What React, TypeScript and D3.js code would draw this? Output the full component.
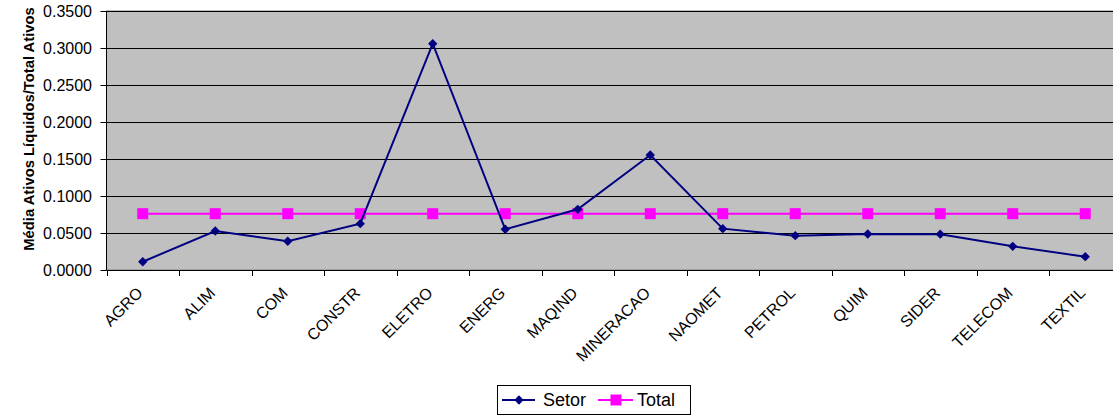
import React from "react";
import * as d3 from "d3";

const categories = ["AGRO", "ALIM", "COM", "CONSTR", "ELETRO", "ENERG", "MAQIND", "MINERACAO", "NAOMET", "PETROL", "QUIM", "SIDER", "TELECOM", "TEXTIL"];
const setorValues = [0.0112, 0.0527, 0.0388, 0.0626, 0.3059, 0.0550, 0.0820, 0.1554, 0.0559, 0.0464, 0.0486, 0.0484, 0.0320, 0.0180];
const totalValues = [0.0761, 0.0761, 0.0761, 0.0761, 0.0761, 0.0761, 0.0761, 0.0761, 0.0761, 0.0761, 0.0761, 0.0761, 0.0761, 0.0761];
const yTicks = [0, 0.05, 0.1, 0.15, 0.2, 0.25, 0.3, 0.35];
const yTitle = "Média Ativos Líquidos/Total Ativos";
const seriesNames = ["Setor", "Total"];

const W = 1113;
const H = 416;
const plot = { left: 106.5, right: 1121.5, top: 11, bottom: 270 };
const FONT = "'Liberation Sans', Arial, sans-serif";
const NAVY = "#000080";
const PINK = "#FF00FF";

export default function App() {
  const x = d3.scaleBand<string>().domain(categories).range([plot.left, plot.right]);
  const y = d3.scaleLinear().domain([0, 0.35]).range([plot.bottom, plot.top]);
  const fmt = d3.format(".4f");
  const cx = (c: string) => (x(c) as number) + x.bandwidth() / 2;

  const line = d3.line<number>().x((_, i) => cx(categories[i])).y((d) => y(d));
  const diamond = d3.symbol(d3.symbolSquare, 44)() as string;
  const square = d3.symbol(d3.symbolSquare, 121)() as string;
  const boundaries = categories.map((c) => x(c) as number).concat([plot.right]);

  return (
    <>
      <style>{`body{margin:0;}`}</style>
      <svg width={W} height={H} style={{ display: "block" }} fontFamily={FONT}>
        <rect x={0} y={0} width={W} height={H} fill="#ffffff" />
        <rect x={plot.left} y={plot.top} width={plot.right - plot.left} height={plot.bottom - plot.top} fill="#C0C0C0" stroke="#808080" strokeWidth={1} />
        {yTicks.map((t) => (
          <g key={t}>
            {t > 0 && <line x1={plot.left} x2={plot.right} y1={Math.round(y(t)) + 0.5} y2={Math.round(y(t)) + 0.5} stroke="#000" strokeWidth={1} />}
            <line x1={plot.left - 6} x2={plot.left} y1={Math.round(y(t)) + 0.5} y2={Math.round(y(t)) + 0.5} stroke="#000" />
            <text x={92} y={y(t)} dy="0.36em" textAnchor="end" fontSize={16} fill="#000">{fmt(t)}</text>
          </g>
        ))}
        <line x1={plot.left} x2={plot.left} y1={plot.top} y2={plot.bottom} stroke="#000" />
        <line x1={plot.left} x2={plot.right} y1={plot.bottom + 0.5} y2={plot.bottom + 0.5} stroke="#000" />
        {boundaries.map((b, i) => (
          <line key={i} x1={Math.round(b) + 0.5} x2={Math.round(b) + 0.5} y1={plot.bottom} y2={plot.bottom + 6} stroke="#000" />
        ))}
        {categories.map((c) => (
          <text key={c} transform={`translate(${cx(c) + 1},${plot.bottom + 24}) rotate(-45)`} textAnchor="end" fontSize={16} fill="#000">{c}</text>
        ))}
        <text transform={`translate(34,129) rotate(-90)`} textAnchor="middle" fontSize={14.8} fontWeight="bold" fill="#000">{yTitle}</text>

        <path d={line(totalValues) as string} fill="none" stroke={PINK} strokeWidth={2} />
        {totalValues.map((v, i) => (
          <path key={i} d={square} transform={`translate(${cx(categories[i])},${y(v)})`} fill={PINK} />
        ))}
        <path d={line(setorValues) as string} fill="none" stroke={NAVY} strokeWidth={2} />
        {setorValues.map((v, i) => (
          <path key={i} d={diamond} transform={`translate(${cx(categories[i])},${y(v)}) rotate(45)`} fill={NAVY} />
        ))}

        <g>
          <rect x={497.5} y={385.5} width={193} height={29} fill="#fff" stroke="#000" />
          <line x1={502} x2={535} y1={400} y2={400} stroke={NAVY} strokeWidth={2} />
          <path d={diamond} transform="translate(519,400) rotate(45)" fill={NAVY} />
          <text x={543} y={400} dy="0.36em" fontSize={18} fill="#000">{seriesNames[0]}</text>
          <line x1={598} x2={633} y1={400} y2={400} stroke={PINK} strokeWidth={2} />
          <path d={square} transform="translate(616,400)" fill={PINK} />
          <text x={637} y={400} dy="0.36em" fontSize={18} fill="#000">{seriesNames[1]}</text>
        </g>
      </svg>
    </>
  );
}
